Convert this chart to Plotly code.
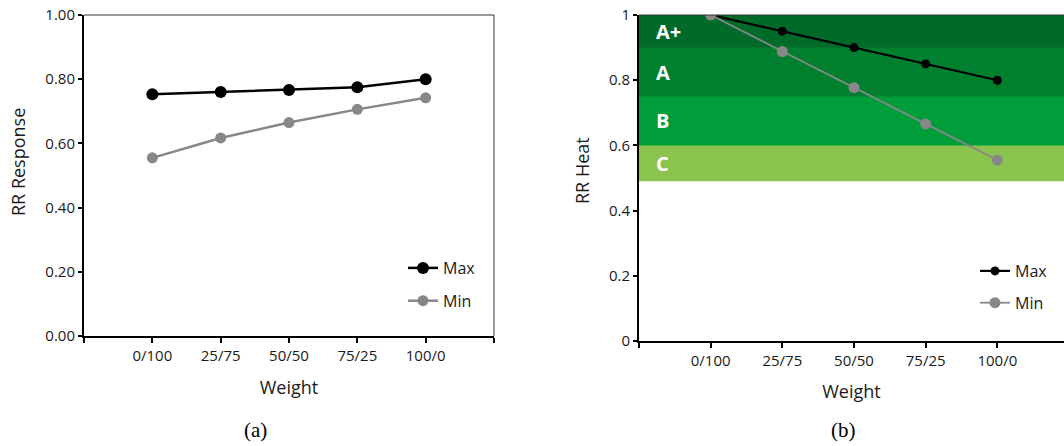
import plotly.graph_objects as go

weights = ["0/100", "25/75", "50/50", "75/25", "100/0"]
resp_max = [0.753, 0.760, 0.766, 0.775, 0.800]
resp_min = [0.555, 0.617, 0.665, 0.706, 0.742]
heat_max = [1.00, 0.950, 0.900, 0.850, 0.800]
heat_min = [1.00, 0.888, 0.777, 0.666, 0.555]
band_labels = ["A+", "A", "B", "C"]
band_lo = [0.90, 0.75, 0.60, 0.49]
band_hi = [1.00, 0.90, 0.75, 0.60]
band_colors = ["#006B28", "#007F2F", "#009D3A", "#8BC34F"]

xpos = list(range(len(weights)))
W, H = 1064, 446
FONT = "Open Sans"
TXT = "#1a1a1a"

fig = go.Figure()

# left panel
fig.add_trace(go.Scatter(x=xpos, y=resp_max, name="Max", mode="lines+markers",
                         line=dict(color="black", width=2.5),
                         marker=dict(color="black", size=12),
                         xaxis="x", yaxis="y", legend="legend", legendgroup="a1"))
fig.add_trace(go.Scatter(x=xpos, y=resp_min, name="Min", mode="lines+markers",
                         line=dict(color="#878787", width=2.5),
                         marker=dict(color="#878787", size=11),
                         xaxis="x", yaxis="y", legend="legend", legendgroup="a2"))
# right panel
fig.add_trace(go.Scatter(x=xpos, y=heat_max, name="Max", mode="lines+markers",
                         line=dict(color="black", width=2.2),
                         marker=dict(color="black", size=9),
                         xaxis="x2", yaxis="y2", legend="legend2", legendgroup="b1"))
fig.add_trace(go.Scatter(x=xpos, y=heat_min, name="Min", mode="lines+markers",
                         line=dict(color="#878787", width=1.8),
                         marker=dict(color="#878787", size=11),
                         xaxis="x2", yaxis="y2", legend="legend2", legendgroup="b2"))

shapes = []
annotations = []
top = max(band_hi)
# draw from lowest band up, each reaching the top, so no seams appear between bands
for lab, lo, hi, col in reversed(list(zip(band_labels, band_lo, band_hi, band_colors))):
    shapes.append(dict(type="rect", xref="x2 domain", yref="y2", x0=0, x1=1, y0=lo, y1=top,
                       fillcolor=col, line=dict(width=0), layer="below"))
for lab, lo, hi in zip(band_labels, band_lo, band_hi):
    annotations.append(dict(text="<b>%s</b>" % lab, xref="x2 domain", yref="y2", x=0.036,
                            y=(lo + hi) / 2, xanchor="left", yanchor="middle", showarrow=False,
                            font=dict(family=FONT, size=20, color="white")))

# frame lines (top/right thin)
shapes.append(dict(type="line", xref="x domain", yref="y domain", x0=0, x1=1, y0=1, y1=1,
                   line=dict(color="#333333", width=1)))
shapes.append(dict(type="line", xref="x domain", yref="y domain", x0=1, x1=1, y0=0, y1=1,
                   line=dict(color="#333333", width=1)))
shapes.append(dict(type="line", xref="x2 domain", yref="y2 domain", x0=0, x1=1, y0=1, y1=1,
                   line=dict(color="#333333", width=1)))

title_font = dict(family=FONT, size=18, color=TXT)

# y-axis titles
annotations.append(dict(text="RR Response", xref="paper", yref="paper", x=18 / W, y=1 - 162 / H,
                        xanchor="center", yanchor="middle", textangle=-90, showarrow=False,
                        font=title_font))
annotations.append(dict(text="RR Heat", xref="paper", yref="paper", x=582 / W, y=1 - 171 / H,
                        xanchor="center", yanchor="middle", textangle=-90, showarrow=False,
                        font=title_font))

annotations.append(dict(text="(a)", xref="paper", yref="paper", x=255 / W, y=1 - 430 / H,
                        xanchor="center", yanchor="middle", showarrow=False,
                        font=dict(family="Liberation Serif", size=21, color="black")))
annotations.append(dict(text="(b)", xref="paper", yref="paper", x=843 / W, y=1 - 430 / H,
                        xanchor="center", yanchor="middle", showarrow=False,
                        font=dict(family="Liberation Serif", size=21, color="black")))

tickvals_x = [-1] + xpos + [len(weights)]
ticktext_x = [""] + weights + [""]

axis_common = dict(showline=True, linecolor="black", linewidth=2, ticks="outside",
                   tickcolor="black", tickwidth=1.5, showgrid=False, zeroline=False,
                   automargin=False,
                   tickfont=dict(family=FONT, size=15, color=TXT))

fig.update_layout(
    width=W, height=H,
    margin=dict(l=0, r=0, t=0, b=0),
    paper_bgcolor="white", plot_bgcolor="rgba(0,0,0,0)",
    showlegend=True,
    xaxis=dict(domain=[84 / W, 494 / W], range=[-1, 5], tickvals=tickvals_x, ticktext=ticktext_x,
               ticklen=5, anchor="y",
               title=dict(text="Weight", font=title_font, standoff=17),
               **axis_common),
    yaxis=dict(domain=[1 - 336 / H, 1 - 15 / H], range=[0, 1], dtick=0.2, tickformat=".2f",
               ticklen=4, anchor="x",
               **axis_common),
    xaxis2=dict(domain=[639 / W, 1], range=[-1, 4.93], tickvals=tickvals_x, ticktext=ticktext_x,
                ticklen=5, anchor="y2",
                title=dict(text="Weight", font=title_font, standoff=16),
                **axis_common),
    yaxis2=dict(domain=[1 - 341 / H, 1 - 15 / H], range=[0, 1], dtick=0.2,
                ticklen=4, anchor="x2",
                **axis_common),
    legend=dict(x=403 / W, y=1 - 251 / H, xanchor="left", yanchor="top", bgcolor="rgba(0,0,0,0)",
                font=dict(family=FONT, size=16, color=TXT), tracegroupgap=9),
    legend2=dict(x=975 / W, y=1 - 254 / H, xanchor="left", yanchor="top", bgcolor="rgba(0,0,0,0)",
                 font=dict(family=FONT, size=16, color=TXT), tracegroupgap=8),
    shapes=shapes, annotations=annotations,
)

fig.write_html("out.html", config={"displayModeBar": False},
               post_script="document.body.style.margin='0';document.body.style.overflow='hidden';")
